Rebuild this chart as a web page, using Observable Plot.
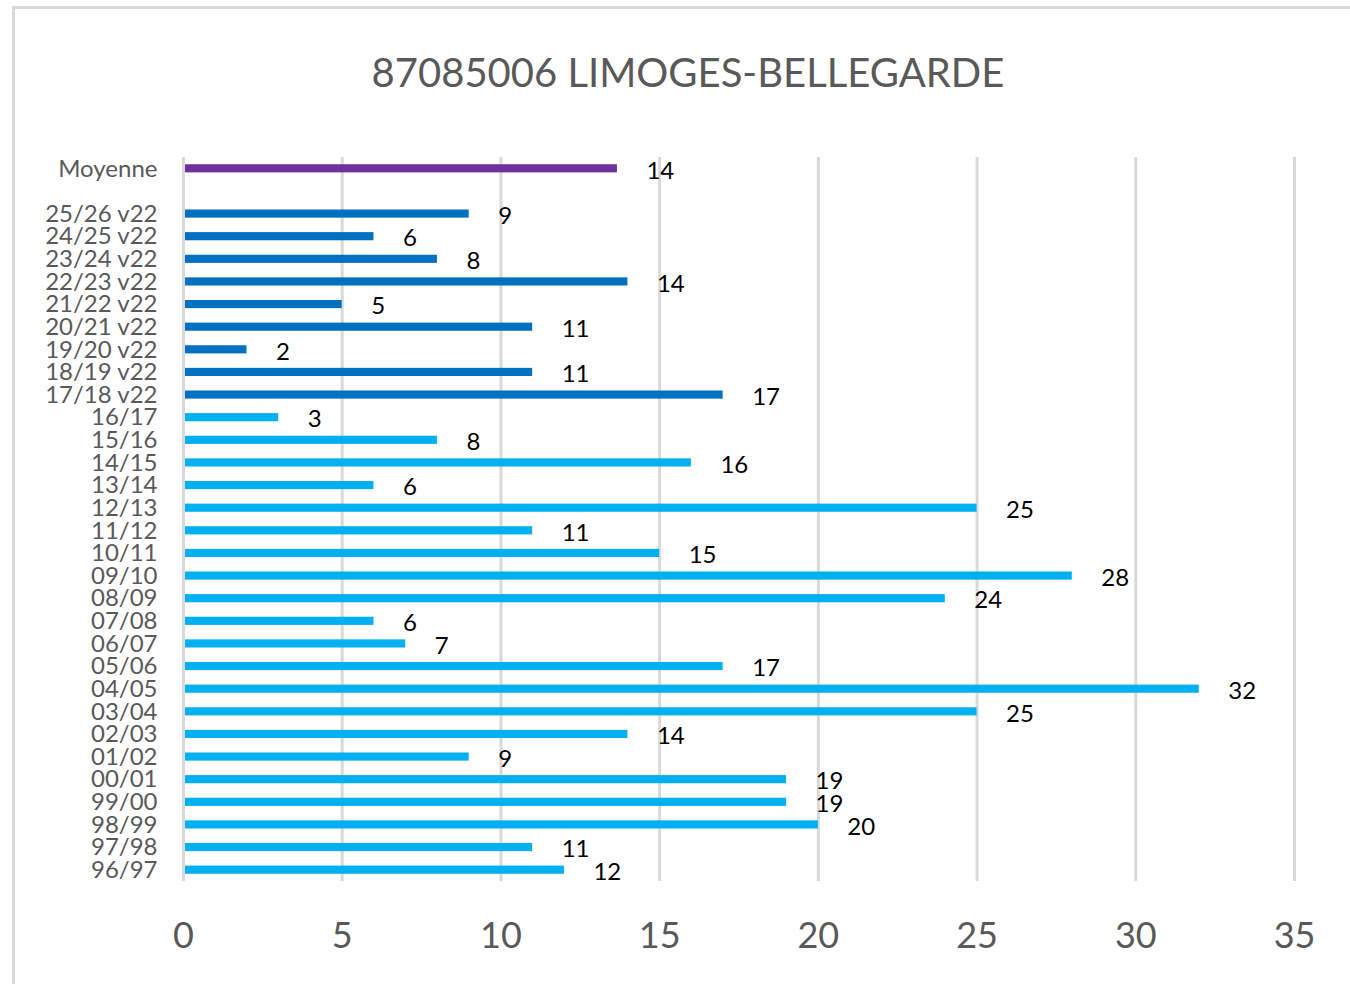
<!DOCTYPE html>
<html>
<head>
<meta charset="utf-8">
<script src="https://cdn.jsdelivr.net/npm/d3@7"></script>
<script src="https://cdn.jsdelivr.net/npm/@observablehq/plot@0.6"></script>
<style>
  html, body { margin: 0; padding: 0; background: #fff; }
  #wrap { position: relative; width: 1350px; height: 984px; overflow: hidden; font-family: Lato, "Open Sans", sans-serif; }
  #frame { position: absolute; left: 12px; top: 6px; width: 1400px; height: 1100px; border: 3px solid #d9d9d9; box-sizing: border-box; }
  #title { position: absolute; left: 0; top: 47px; width: 1376px; text-align: center; font-size: 40px; color: #595959; line-height: 50px; }
  #chart { position: absolute; left: 0; top: 0; }
</style>
</head>
<body>
<div id="wrap">
  <div id="frame"></div>
  <div id="title">87085006 LIMOGES-BELLEGARDE</div>
  <div id="chart"></div>
</div>
<script>
const categories = ["Moyenne", "", "25/26 v22", "24/25 v22", "23/24 v22", "22/23 v22", "21/22 v22", "20/21 v22", "19/20 v22", "18/19 v22", "17/18 v22",
  "16/17", "15/16", "14/15", "13/14", "12/13", "11/12", "10/11", "09/10", "08/09", "07/08", "06/07", "05/06", "04/05", "03/04", "02/03", "01/02", "00/01", "99/00", "98/99", "97/98", "96/97"];
const values = [13.67, null, 9, 6, 8, 14, 5, 11, 2, 11, 17,
  3, 8, 16, 6, 25, 11, 15, 28, 24, 6, 7, 17, 32, 25, 14, 9, 19, 19, 20, 11, 12];
const groups = ["Moyenne", null, "v22", "v22", "v22", "v22", "v22", "v22", "v22", "v22", "v22",
  "old", "old", "old", "old", "old", "old", "old", "old", "old", "old", "old", "old", "old", "old", "old", "old", "old", "old", "old", "old", "old"];
const xTicks = [0, 5, 10, 15, 20, 25, 30, 35];

const data = categories.map((c, i) => ({cat: c, value: values[i], group: groups[i]})).filter(d => d.value != null);

const chart = Plot.plot({
  width: 1350,
  height: 984,
  marginTop: 157,
  marginBottom: 103,
  marginLeft: 183,
  marginRight: 56,
  style: {fontFamily: "Lato, 'Open Sans', sans-serif", color: "#595959", background: "transparent"},
  x: {domain: [0, 35], ticks: xTicks},
  y: {domain: categories, paddingInner: 0.64, paddingOuter: 0.32, align: 0.5, round: false},
  color: {domain: ["Moyenne", "v22", "old"], range: ["#7030a0", "#0070c0", "#00b0f0"]},
  marks: [
    Plot.gridX(xTicks, {stroke: "#d9d9d9", strokeWidth: 3, strokeOpacity: 1}),
    Plot.barX(data, {x: "value", y: "cat", fill: "group", insetLeft: 2}),
    Plot.text(data, {x: "value", y: "cat", text: d => String(Math.round(d.value)), dx: 29, dy: 2, textAnchor: "start", fontSize: 24, fill: "#000"}),
    Plot.axisY({tickSize: 0, tickPadding: 26, fontSize: 24, label: null}),
    Plot.axisX(xTicks, {tickSize: 0, tickPadding: 41, fontSize: 36, label: null})
  ]
});
document.getElementById("chart").appendChild(chart);
</script>
</body>
</html>
